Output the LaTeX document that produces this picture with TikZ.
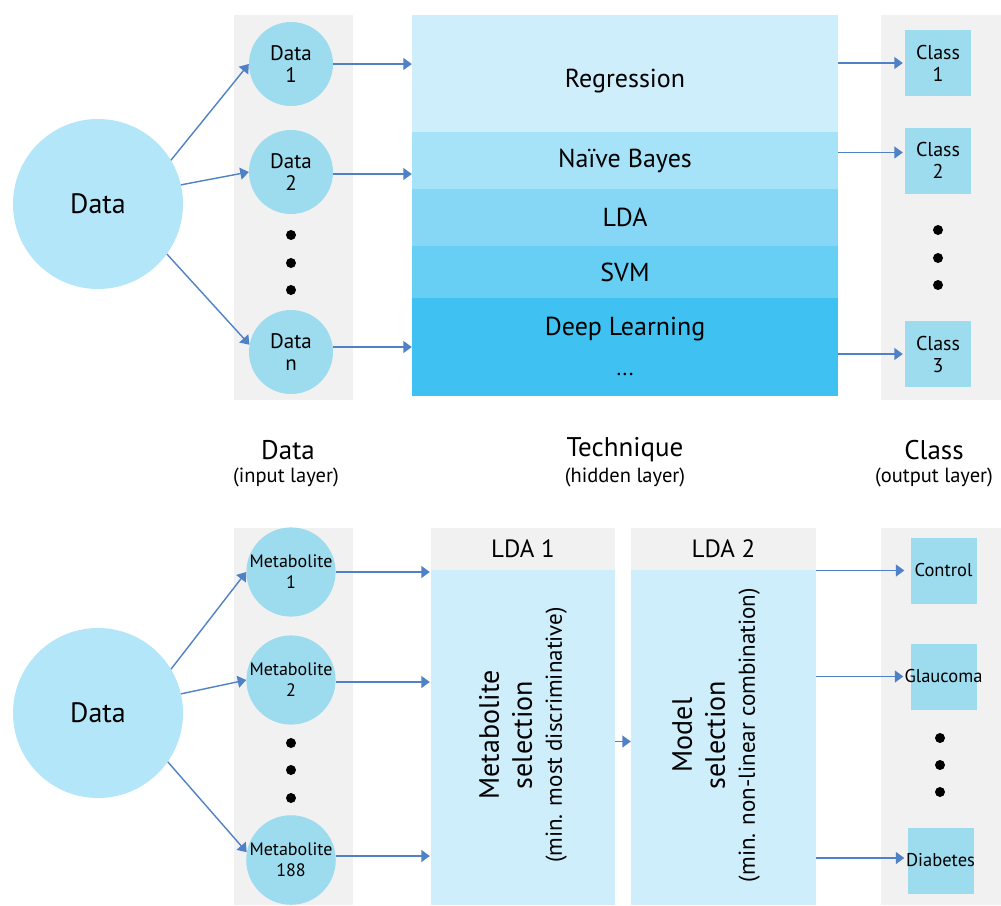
\documentclass[tikz,border=0pt]{standalone}
\usepackage{fontspec}
\setmainfont{PT Sans}
\usetikzlibrary{arrows.meta}
\definecolor{bigc}{HTML}{B3E6F8}
\definecolor{smallc}{HTML}{9DDCEF}
\definecolor{colgray}{HTML}{F1F1F1}
\definecolor{band1}{HTML}{CDEEFA}
\definecolor{band2}{HTML}{A7E3F8}
\definecolor{band3}{HTML}{85D7F5}
\definecolor{band4}{HTML}{67CEF4}
\definecolor{band5}{HTML}{3FC2F1}
\definecolor{arr}{HTML}{4F81C7}
\newcommand{\fs}[1]{\fontsize{#1}{#1}\selectfont}
\newcommand{\fsl}[2]{\fontsize{#1}{#2}\selectfont}
\begin{document}
\begin{tikzpicture}[x=1pt,y=-1pt,
  bigcirc/.style={circle,fill=bigc,minimum size=170pt,inner sep=0pt,font=\fs{28}},
  smallcirc/.style={circle,fill=smallc,minimum size=84pt,inner sep=0pt,align=center,font=\fsl{21}{22}},
  metcirc/.style={smallcirc,font=\fsl{18}{21}},
  column/.style={fill=colgray},
  band/.style={rectangle,minimum width=426pt,inner sep=0pt,font=\fs{26}},
  classbox/.style={rectangle,fill=smallc,minimum width=66pt,minimum height=66pt,inner sep=0pt,align=center,font=\fsl{20}{22}},
  outlabel/.style={font=\fs{18.5}},
  header/.style={rectangle,fill=colgray,minimum height=42pt,inner sep=0pt,font=\fs{25}},
  lbody/.style={rectangle,fill=band1,minimum height=335pt,inner sep=0pt},
  rottext/.style={rotate=90,align=center,font=\fsl{28}{33}},
  dot/.style={circle,fill=black,minimum size=10pt,inner sep=0pt},
  conn/.style={draw=arr,line width=1.4pt,-{Triangle[length=8.5pt,width=12pt]}},
  ttl/.style={font=\fs{27}},
  sub/.style={font=\fs{20.5}}
]
\useasboundingbox (0,0) rectangle (1001,905);
% ---------- top ----------
\fill[column] (234,15) rectangle (353,400);
\fill[column] (881,15) rectangle (1001,400);
\node[bigcirc] (big) at (98,204) {Data};
\node[smallcirc] (d1) at (291,64) {Data\\1};
\node[smallcirc] (d2) at (291,172) {Data\\2};
\node[smallcirc] (dn) at (291,352) {Data\\n};
\node[dot] (t1) at (291,235) {};
\node[dot] (t2) at (291,263) {};
\node[dot] (t3) at (291,290) {};
\node[band,fill=band1,minimum height=118pt,label={[font=\fs{26},yshift=-8pt]center:Regression}] (reg) at (625,73.5) {};
\node[band,fill=band2,minimum height=58pt] (nb) at (625,160.5) {Naïve Bayes};
\node[band,fill=band3,minimum height=58pt] (lda) at (625,217.5) {LDA};
\node[band,fill=band4,minimum height=53pt] (svm) at (625,272) {SVM};
\node[band,fill=band5,minimum height=98pt,align=center] (dl) at (625,346.5) {Deep Learning\\[14pt]{\fs{22}...}};
\node[classbox] (c1) at (938,63) {Class\\1};
\node[classbox] (c2) at (938,160.5) {Class\\2};
\node[classbox] (c3) at (938,354) {Class\\3};
\node[dot] (u1) at (938,230) {};
\node[dot] (u2) at (938,258) {};
\node[dot] (u3) at (938,285) {};
\draw[conn] (big.31.6) -- (d1.west);
\draw[conn] (big.13) -- (d2.west);
\draw[conn] (big.-36) -- (dn.170);
\draw[conn] (d1.east) -- (d1.east -| reg.west);
\draw[conn] ([yshift=-2pt]d2.east) -- ([yshift=-2pt]d2.east -| nb.west);
\draw[conn] ([yshift=5pt]dn.east) -- ([yshift=5pt]dn.east -| dl.west);
\draw[conn] (reg.east |- c1) -- ([xshift=-2pt]c1.west);
\draw[conn] ([yshift=8pt]reg.east |- c2) -- ([xshift=-2pt,yshift=8pt]c2.west);
\draw[conn] (dl.east |- c3) -- ([xshift=-2pt]c3.west);
% titles
\node[ttl] (tdata) at (288,450) {Data};
\node[sub] (sdata) at (286,477) {(input layer)};
\node[ttl] (ttech) at (625,450) {Technique};
\node[sub] (stech) at (625,477) {(hidden layer)};
\node[ttl] (tclass) at (934,450) {Class};
\node[sub] (sclass) at (934,477) {(output layer)};
% ---------- bottom ----------
\fill[column] (234,528) rectangle (353,905);
\fill[column] (881,528) rectangle (1001,905);
\node[bigcirc] (big2) at (98,713) {Data};
\node[metcirc] (m1) at (291,572) {Metabolite\\1};
\node[metcirc] (m2) at (291,680) {Metabolite\\2};
\node[metcirc] (m3) at (291,860) {Metabolite\\188};
\node[dot] (v1) at (291,743) {};
\node[dot] (v2) at (291,770) {};
\node[dot] (v3) at (291,798) {};
\node[header,minimum width=184pt] (h1) at (523,549) {LDA 1};
\node[header,minimum width=185pt] (h2) at (723.5,549) {LDA 2};
\node[lbody,minimum width=184pt] (l1) at (523,737.5) {};
\node[lbody,minimum width=185pt] (l2) at (723.5,737.5) {};
\node[rottext] (l1t) at (523,735) {Metabolite\\selection\\[-3pt]{\fs{23}(min. most discriminative)}};
\node[rottext] (l2t) at (716,735) {Model\\selection\\[-3pt]{\fs{23}(min. non-linear combination)}};
\node[classbox,label={[outlabel]center:Control}] (k1) at (943.5,570.5) {};
\node[classbox,label={[outlabel]center:Glaucoma}] (k2) at (943.5,676.5) {};
\node[classbox,label={[outlabel]center:Diabetes}] (k3) at (940.5,860.5) {};
\node[dot] (w1) at (940,738) {};
\node[dot] (w2) at (940,765) {};
\node[dot] (w3) at (940,792) {};
\draw[conn] (big2.31.6) -- (m1.west);
\draw[conn] (big2.13.7) -- (m2.west);
\draw[conn] (big2.-35) -- (m3.170);
\draw[conn] (m1.east) -- ([xshift=-1pt]m1.east -| l1.west);
\draw[conn] ([yshift=-2pt]m2.east) -- ([xshift=-1pt,yshift=-2pt]m2.east -| l1.west);
\draw[conn] ([yshift=4pt]m3.east) -- ([xshift=-1pt,yshift=4pt]m3.east -| l1.west);
\draw[conn] ([yshift=-4pt]l1.east) -- ([yshift=-4pt]l2.west);
\draw[conn] (l2.east |- k1) -- ([xshift=-6pt]k1.west);
\draw[conn] (l2.east |- k2) -- ([xshift=-7pt]k2.west);
\draw[conn] ([yshift=2.5pt]l2.east |- k3) -- ([xshift=-3pt,yshift=2.5pt]k3.west);
\end{tikzpicture}
\end{document}
